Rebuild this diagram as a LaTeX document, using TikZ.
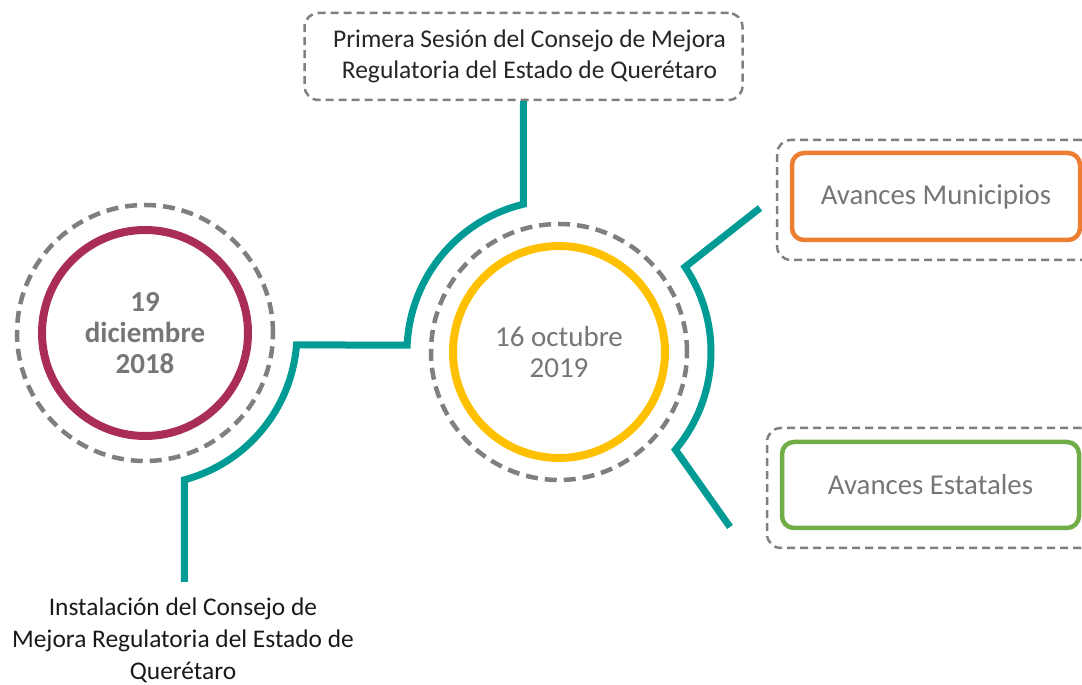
\documentclass[tikz,border=0pt]{standalone}
\usepackage{fontspec}
\setmainfont{Carlito}
\usetikzlibrary{calc}

\definecolor{enlaceverde}{RGB}{0,155,149}
\definecolor{fecharoja}{RGB}{170,44,88}
\definecolor{amarillo}{RGB}{255,192,0}
\definecolor{naranja}{RGB}{237,125,49}
\definecolor{verde}{RGB}{112,173,71}
\definecolor{gris}{RGB}{127,127,127}
\definecolor{textogris}{RGB}{118,118,118}

\begin{document}
\begin{tikzpicture}[x=1pt, y=1pt,
        fecha/.style={circle, line width=8pt, text=textogris, align=center, minimum size=206pt, inner sep=0pt},
        anillo/.style={draw=gris, line width=4.5pt, dash pattern=on 12pt off 7pt},
        enlace/.style={draw=enlaceverde, line width=7pt},
        marco/.style={draw=gris, line width=2.5pt, dash pattern=on 8pt off 5pt, rounded corners=14pt},
        avance/.style={line width=4.5pt, rounded corners=12pt, text=textogris, font=\fontsize{28.8}{32}\selectfont, minimum height=87pt}]
    \clip (0,0) rectangle (1082,685);

    % fechas
    \node [fecha, draw=fecharoja, font=\bfseries\fontsize{29}{31}\selectfont] (d2018) at (145,352) {19\\diciembre\\2018};
    \node [fecha, draw=amarillo, minimum size=212pt, font=\fontsize{29}{31}\selectfont] (d2019) at (559,333) {16 octubre\\2019};
    \draw [anillo] (d2018) circle [radius=128pt];
    \draw [anillo] (d2019) circle [radius=128pt];

    % textos y cuadros
    \node [marco, minimum width=438pt, minimum height=87pt, align=center, text=black!85, font=\fontsize{25.5}{31}\selectfont] (sesion) at (523.5,628.5) {\hspace*{12pt}Primera Sesión del Consejo de Mejora\\\hspace*{12pt}Regulatoria del Estado de Querétaro};
    \node [align=center, text=black!90, font=\fontsize{25.4}{32}\selectfont] (inst) at (183,45) {Instalación del Consejo de\\Mejora Regulatoria del Estado de\\Querétaro};
    \node [marco, minimum width=318pt, minimum height=120pt] (munmarco) at (936,485) {};
    \node [avance, draw=naranja, minimum width=288pt] (mun) at (936,488.5) {Avances Municipios};
    \node [marco, minimum width=328pt, minimum height=120pt] (estmarco) at (931,197) {};
    \node [avance, draw=verde, minimum width=297pt, minimum height=86pt] (est) at (930.5,200) {Avances Estatales};

    \coordinate (instTop) at (184.34,103);
    \coordinate (munEnd) at (760,477);
    \coordinate (estEnd) at (730,158);

    % linea de tiempo
    \draw [enlace] (instTop) -- ($(d2018)+(-75:152pt)$) arc [start angle=-75, end angle=-4.5, radius=152pt]
        -- ($(d2019)+(177.4:152pt)$) arc [start angle=177.4, end angle=103.6, radius=152pt] -- (sesion.south);
    \draw [enlace] (munEnd) -- ($(d2019)+(34:152pt)$) arc [start angle=34, end angle=-40, radius=152pt] -- (estEnd);
\end{tikzpicture}
\end{document}
